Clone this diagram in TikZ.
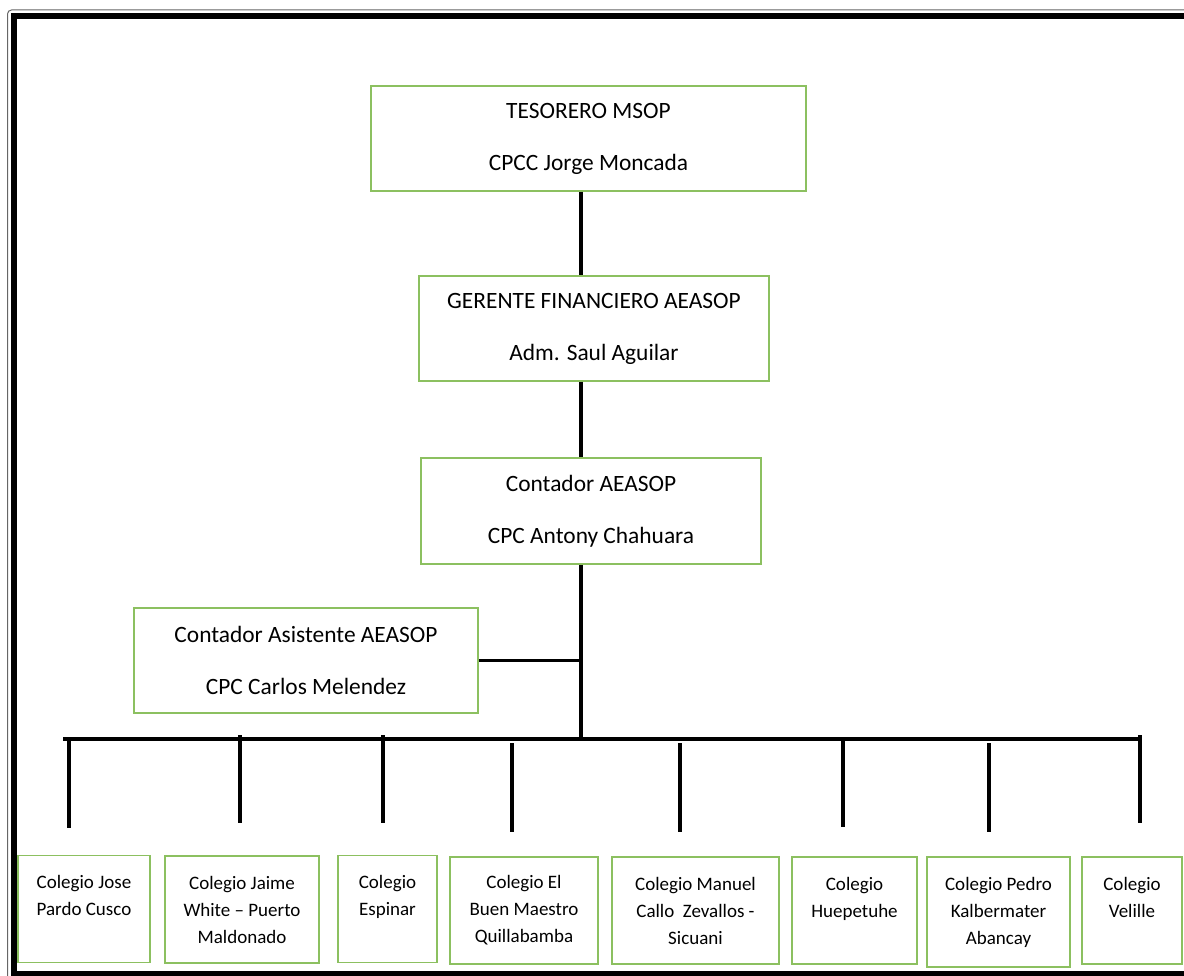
\documentclass[tikz,border=0pt]{standalone}
\usepackage{fontspec}
\setmainfont{Carlito}
\usepackage{tikz}
\usetikzlibrary{positioning,calc}
\definecolor{boxcol}{RGB}{140,192,96}

\begin{document}
\begin{tikzpicture}[
  x=1pt, y=-1pt,
  post/.style={draw=boxcol,line width=1.8pt,inner sep=0pt,align=center,font=\fontsize{23.4}{52}\selectfont},
  colegio/.style={draw=boxcol,line width=1.8pt,inner sep=0pt,align=center,minimum height=107pt,font=\fontsize{19}{27}\selectfont},
  link/.style={line width=3.5pt}]
\useasboundingbox (0,0) rectangle (1184,976);
\clip (0,0) rectangle (1184,976);
\draw[black!60,line width=1pt,rounded corners=4pt] (7.5,10) rectangle (1220,1010);
\draw[line width=6pt] (14,16) rectangle (1220,974);
\node[post,minimum width=435pt,minimum height=105pt] (tes) at (588.5,138.5) {TESORERO MSOP\\CPCC Jorge Moncada};
\node[post,minimum width=350pt,minimum height=105pt] (ger) at (594,328.5) {GERENTE FINANCIERO AEASOP\\Adm. Saul Aguilar};
\node[post,minimum width=340pt,minimum height=106pt] (cont) at (591,511) {Contador AEASOP\\CPC Antony Chahuara};
\node[post,minimum width=344pt,minimum height=105pt] (asis) at (306,660.5) {Contador Asistente AEASOP\\CPC Carlos Melendez};
\node[colegio,minimum width=132pt] (jose) at (84,909) {Colegio Jose\\Pardo Cusco\\\mbox{}};
\node[colegio,minimum width=154pt] (jaime) at (242,909.5) {Colegio Jaime\\White -- Puerto\\Maldonado};
\node[colegio,minimum width=99pt] (espinar) at (387.5,909) {Colegio\\Espinar\\\mbox{}};
\node[colegio,minimum width=148pt] (maestro) at (524,910.5) {Colegio El\\Buen Maestro\\Quillabamba};
\node[colegio,minimum width=167pt] (callo) at (695.5,910.5) {Colegio Manuel\\Callo~ Zevallos -\\Sicuani};
\node[colegio,minimum width=125pt] (huepe) at (854.5,910.5) {Colegio\\Huepetuhe\\\mbox{}};
\node[colegio,minimum width=143pt,minimum height=110pt] (pedro) at (998.5,912) {Colegio Pedro\\Kalbermater\\Abancay};
\node[colegio,minimum width=100pt] (velille) at (1132,910.5) {Colegio\\Velille\\\mbox{}};
\coordinate (spine) at (581,0);
\coordinate (busL) at (63,739);
\coordinate (busR) at (1142,739);
\draw[link] (tes.south -| spine) -- (ger.north -| spine);
\draw[link] (ger.south -| spine) -- (cont.north -| spine);
\draw[link] (cont.south -| spine) -- (busL -| spine);
\draw[link] (asis.east) -- (asis.east -| spine);
\draw[link] (busL) -- (busR);
\foreach \x/\ya/\yb [count=\i] in {69/739/828,240/735/823,383/735/823,512/743/832,680/743/832,843/739/827,989/743/832,1140/735/823}{
  \coordinate (drop\i) at (\x,\ya);
  \coordinate (end\i) at (\x,\yb);
  \draw[link] (drop\i) -- (end\i);
}
\end{tikzpicture}
\end{document}
